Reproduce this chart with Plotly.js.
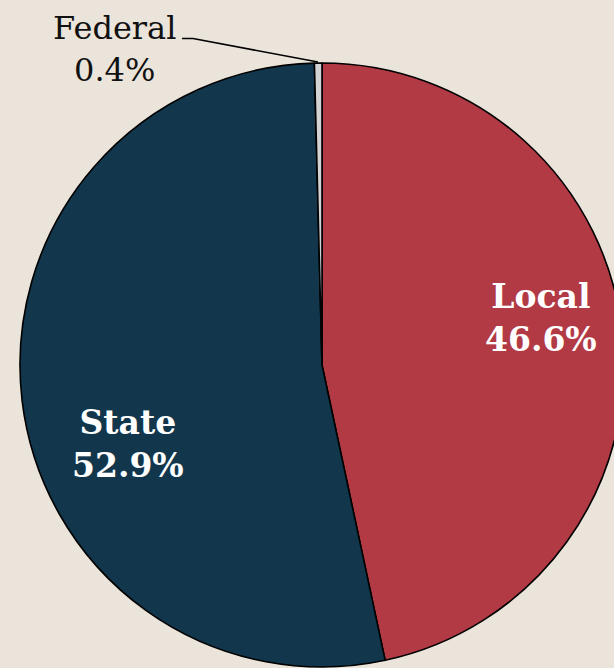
<!DOCTYPE html>
<html>
<head>
<meta charset="utf-8">
<script src="https://cdn.plot.ly/plotly-3.0.1.min.js"></script>
<style>
html,body{margin:0;padding:0;overflow:hidden;background:#ebe4da;width:614px;height:668px;}
#chart{width:644px;height:668px;}
</style>
</head>
<body>
<div id="chart"></div>
<script>
const labels = ["Local", "State", "Federal"];
const values = [46.6, 52.9, 0.4];
const colors = ["#b23a45", "#12374d", "#d3d3d3"];

const W = 644, H = 668, ML = 20, MR = 20, MT = 62, MB = 0;
const PW = W - ML - MR, PH = H - MT - MB;
function px(x){ return (x - ML) / PW; }
function py(y){ return 1 - (y - MT) / PH; }

const FONT = "DejaVu Serif, Liberation Serif, serif";
function lbl(i){ return labels[i] + "<br>" + values[i].toFixed(1) + "%"; }

const data = [{
  type: "pie",
  labels: labels,
  values: values,
  sort: false,
  direction: "clockwise",
  rotation: 0,
  textinfo: "none",
  hoverinfo: "label+value",
  marker: { colors: colors, line: { color: "#000000", width: 1.6 } },
  showlegend: false
}];

const layout = {
  width: W, height: H,
  margin: { l: ML, r: MR, t: MT, b: MB, pad: 0 },
  paper_bgcolor: "#ebe4da",
  plot_bgcolor: "#ebe4da",
  showlegend: false,
  annotations: [
    { text: "<b>" + lbl(0) + "</b>", x: px(541), y: py(318), xref: "paper", yref: "paper",
      showarrow: false, xanchor: "center", yanchor: "middle", font: { family: FONT, size: 33, color: "#ffffff" } },
    { text: "<b>" + lbl(1) + "</b>", x: px(128), y: py(444), xref: "paper", yref: "paper",
      showarrow: false, xanchor: "center", yanchor: "middle", font: { family: FONT, size: 33, color: "#ffffff" } },
    { text: lbl(2), x: px(114), y: py(49), xref: "paper", yref: "paper",
      showarrow: false, xanchor: "center", yanchor: "middle", font: { family: FONT, size: 32, color: "#111111" } }
  ],
  shapes: [
    { type: "path", xref: "paper", yref: "paper",
      path: "M " + px(182) + "," + py(38.5) + " L " + px(193) + "," + py(38.5) + " L " + px(318) + "," + py(62),
      line: { color: "#000000", width: 1.6 } }
  ]
};

Plotly.newPlot("chart", data, layout, { displayModeBar: false, staticPlot: true });
</script>
</body>
</html>
